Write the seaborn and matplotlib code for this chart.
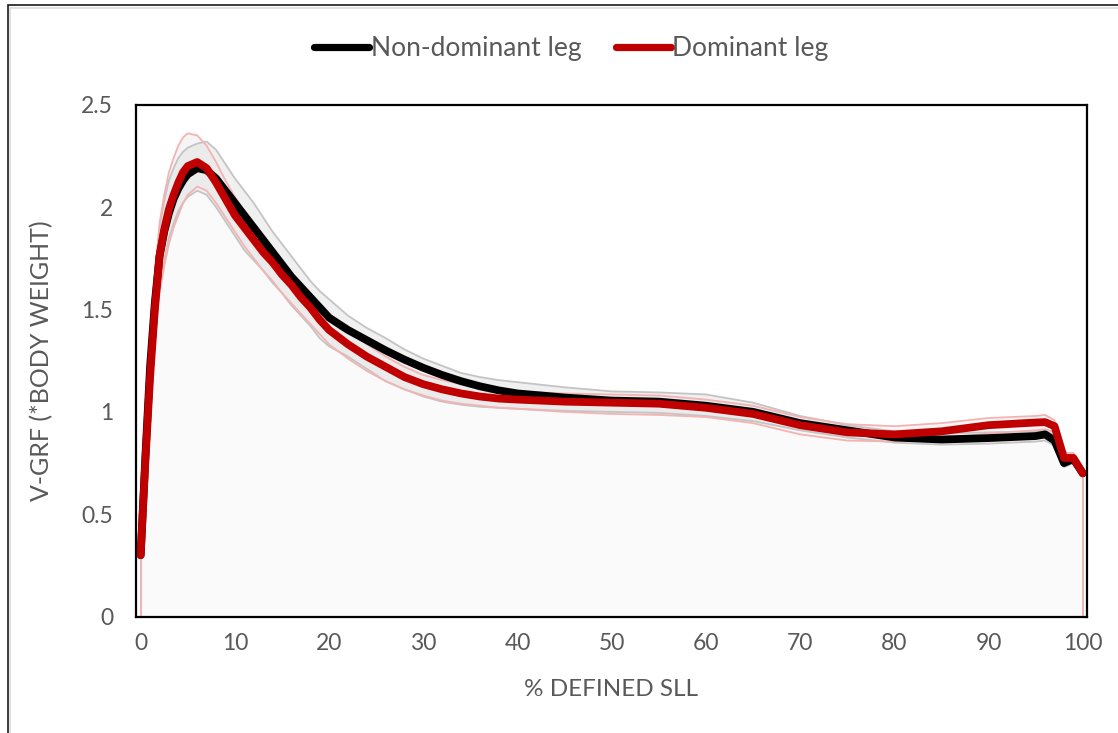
import numpy as np
import pandas as pd
import matplotlib
matplotlib.use("Agg")
import matplotlib.pyplot as plt
from matplotlib.lines import Line2D
from matplotlib.patches import Rectangle
import seaborn as sns

# % of defined single-leg landing
pct = [0, 0.5, 1, 1.5, 2, 2.5, 3, 3.5, 4, 4.5, 5, 6, 7, 8, 9, 10, 11, 12, 13,
       14, 15, 16, 17, 18, 19, 20, 22, 24, 26, 28, 30, 32, 34, 36, 38, 40, 45,
       50, 55, 60, 65, 70, 75, 80, 85, 90, 95, 96, 97, 98, 99, 100]

# Vertical GRF (x body weight): mean and SD envelope for each leg
nondom_mean = [0.30, 0.78, 1.22, 1.53, 1.76, 1.88, 1.97, 2.04, 2.09, 2.13, 2.16,
               2.19, 2.18, 2.14, 2.08, 2.02, 1.96, 1.90, 1.84, 1.78, 1.72, 1.66,
               1.61, 1.56, 1.51, 1.46, 1.40, 1.35, 1.30, 1.255, 1.215, 1.18,
               1.15, 1.125, 1.105, 1.09, 1.07, 1.055, 1.05, 1.03, 1.00, 0.945,
               0.91, 0.875, 0.865, 0.872, 0.882, 0.89, 0.86, 0.75, 0.77, 0.70]
nondom_upper = [0.32, 0.85, 1.35, 1.67, 1.90, 2.03, 2.13, 2.19, 2.24, 2.27, 2.29,
                2.31, 2.32, 2.28, 2.21, 2.14, 2.08, 2.02, 1.95, 1.88, 1.82, 1.76,
                1.70, 1.64, 1.59, 1.55, 1.47, 1.41, 1.36, 1.305, 1.26, 1.225,
                1.19, 1.17, 1.155, 1.145, 1.12, 1.10, 1.095, 1.085, 1.045, 0.98,
                0.935, 0.905, 0.895, 0.90, 0.905, 0.91, 0.885, 0.77, 0.79, 0.72]
nondom_lower = [0.28, 0.70, 1.05, 1.37, 1.60, 1.74, 1.85, 1.92, 1.98, 2.02, 2.05,
                2.08, 2.06, 2.00, 1.93, 1.86, 1.79, 1.74, 1.69, 1.63, 1.58, 1.52,
                1.47, 1.42, 1.36, 1.32, 1.27, 1.21, 1.15, 1.11, 1.075, 1.05,
                1.035, 1.025, 1.02, 1.015, 1.005, 1.00, 0.995, 0.98, 0.955, 0.91,
                0.875, 0.85, 0.84, 0.845, 0.855, 0.86, 0.835, 0.73, 0.75, 0.68]

dom_mean = [0.30, 0.76, 1.17, 1.50, 1.76, 1.89, 1.99, 2.06, 2.12, 2.17, 2.20,
            2.22, 2.19, 2.12, 2.04, 1.96, 1.90, 1.84, 1.78, 1.73, 1.67, 1.62,
            1.56, 1.51, 1.45, 1.40, 1.33, 1.27, 1.22, 1.17, 1.135, 1.11, 1.09,
            1.075, 1.065, 1.06, 1.05, 1.045, 1.04, 1.02, 0.99, 0.935, 0.90,
            0.89, 0.905, 0.935, 0.948, 0.95, 0.93, 0.775, 0.775, 0.70]
dom_upper = [0.32, 0.84, 1.30, 1.65, 1.92, 2.06, 2.17, 2.24, 2.30, 2.34, 2.36,
             2.35, 2.30, 2.22, 2.13, 2.05, 1.98, 1.92, 1.86, 1.80, 1.74, 1.68,
             1.62, 1.57, 1.51, 1.46, 1.39, 1.33, 1.27, 1.22, 1.18, 1.155, 1.135,
             1.12, 1.11, 1.10, 1.09, 1.085, 1.08, 1.06, 1.03, 0.975, 0.94, 0.93,
             0.945, 0.97, 0.98, 0.985, 0.96, 0.80, 0.80, 0.72]
dom_lower = [0.28, 0.68, 1.02, 1.33, 1.58, 1.71, 1.82, 1.90, 1.96, 2.02, 2.06,
             2.10, 2.08, 2.02, 1.95, 1.88, 1.81, 1.75, 1.69, 1.64, 1.58, 1.53,
             1.48, 1.43, 1.38, 1.33, 1.26, 1.20, 1.15, 1.11, 1.08, 1.055, 1.04,
             1.03, 1.02, 1.015, 1.00, 0.99, 0.985, 0.975, 0.945, 0.89, 0.86,
             0.855, 0.865, 0.895, 0.91, 0.915, 0.90, 0.745, 0.75, 0.68]

legs = ["Non-dominant leg", "Dominant leg"]
leg_colors = {"Non-dominant leg": "#000000", "Dominant leg": "#C00000"}

sns.set_style("white")
plt.rcParams["font.family"] = ["Lato", "DejaVu Sans"]

TXT = "#595959"

fig = plt.figure(figsize=(11.18, 7.33), dpi=100)
ax = fig.add_axes([0.1216, 0.1587, 0.8507, 0.6985])

x = np.array(pct)
nd_lo, nd_hi = np.array(nondom_lower), np.array(nondom_upper)
d_lo, d_hi = np.array(dom_lower), np.array(dom_upper)

# light area under the curves
ax.fill_between(x, 0, np.minimum(nd_lo, d_lo), color="#fafafa", lw=0, zorder=1)
# SD envelopes
ax.fill_between(x, nd_lo, nd_hi, color="#e4e4e4", alpha=0.55, lw=0, zorder=1.2)
ax.fill_between(x, d_lo, d_hi, color="#e4e4e4", alpha=0.35, lw=0, zorder=1.2)

for lo, hi, c in [(nd_lo, nd_hi, "#c4c4c4"), (d_lo, d_hi, "#f4b3b3")]:
    ax.plot(x, lo, color=c, lw=1.3, zorder=2)
    ax.plot(x, hi, color=c, lw=1.3, zorder=2)
    ax.vlines([x[0], x[-1]], 0, [lo[0], lo[-1]], color=c, lw=1.3, zorder=2)

df = pd.DataFrame({
    "pct": pct * 2,
    "grf": nondom_mean + dom_mean,
    "leg": [legs[0]] * len(pct) + [legs[1]] * len(pct),
})
sns.lineplot(data=df, x="pct", y="grf", hue="leg", hue_order=legs,
             palette=leg_colors, lw=5.6, ax=ax, legend=False, zorder=3,
             solid_capstyle="round", solid_joinstyle="round",
             estimator=None, sort=False)

ax.set_xlim(-0.5, 100.45)
ax.set_ylim(0, 2.5)
ax.set_xticks(range(0, 101, 10))
ax.set_yticks([0, 0.5, 1, 1.5, 2, 2.5])
ax.set_yticklabels(["0", "0.5", "1", "1.5", "2", "2.5"])
ax.tick_params(axis="both", length=0, labelsize=16.5, colors=TXT)
ax.tick_params(axis="y", pad=16.5)
ax.tick_params(axis="x", pad=12)
for s in ax.spines.values():
    s.set_color("#000000")
    s.set_linewidth(1.6)
    s.set_visible(True)
    s.set_zorder(5)

ax.set_xlabel("% DEFINED SLL", fontsize=17.5, color=TXT, labelpad=18)
ax.set_ylabel("V-GRF (*BODY WEIGHT)", fontsize=18, color=TXT, labelpad=20)

handles = [Line2D([0], [0], color=leg_colors[l], lw=5.2, solid_capstyle="round")
           for l in legs]
leg = fig.legend(handles, legs, loc="center", bbox_to_anchor=(0.511, 0.934),
                 ncol=2, frameon=False, fontsize=19, handlelength=2.1,
                 handletextpad=0.05, columnspacing=1.3)
for t in leg.get_texts():
    t.set_color(TXT)

# outer chart frame
fig.add_artist(Rectangle((7.5 / 1118, -0.05), 1.2, 1 - 5 / 733 + 0.05,
                         transform=fig.transFigure, fill=False,
                         edgecolor="#1a1a1a", lw=1.2, zorder=10))
fig.add_artist(Rectangle((10 / 1118, -0.05), 1.2, 1 - 7.5 / 733 + 0.05,
                         transform=fig.transFigure, fill=False,
                         edgecolor="#dcdcdc", lw=1.2, zorder=10))

fig.savefig("out.png", dpi=100)
